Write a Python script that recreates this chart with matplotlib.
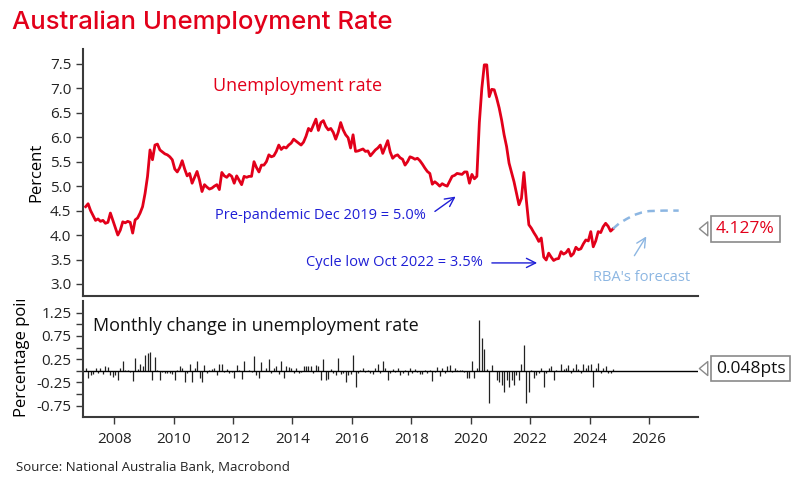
"""Australian unemployment rate with monthly change panel."""

import numpy as np
import pandas as pd
import matplotlib
matplotlib.use("Agg")
import matplotlib.pyplot as plt
from matplotlib import transforms
from matplotlib.transforms import Bbox, TransformedBbox

# Unemployment rate, monthly, Jan 2007 - Oct 2024 (per cent)
rate = [
    4.58, 4.64, 4.50, 4.40, 4.30, 4.33, 4.28, 4.30, 4.24, 4.26, 4.45, 4.30,  # 2007
    4.15, 4.00, 4.10, 4.27, 4.25, 4.28, 4.26, 4.04, 4.31, 4.35, 4.45, 4.58,  # 2008
    4.85, 5.20, 5.74, 5.54, 5.84, 5.86, 5.74, 5.70, 5.66, 5.64, 5.60, 5.54,  # 2009
    5.35, 5.29, 5.38, 5.52, 5.35, 5.21, 5.26, 5.06, 5.18, 5.30, 5.12, 4.89,  # 2010
    5.03, 4.98, 4.94, 4.96, 5.00, 5.03, 4.93, 5.28, 5.21, 5.18, 5.24, 5.20,  # 2011
    5.06, 5.21, 5.12, 5.03, 5.20, 5.18, 5.20, 5.20, 5.50, 5.38, 5.29, 5.43,  # 2012
    5.43, 5.50, 5.64, 5.60, 5.62, 5.71, 5.84, 5.75, 5.80, 5.78, 5.84, 5.88,  # 2013
    5.96, 5.92, 5.88, 5.84, 5.90, 6.02, 6.18, 6.13, 6.25, 6.37, 6.14, 6.30,  # 2014
    6.34, 6.22, 6.15, 6.18, 6.10, 5.96, 6.10, 6.30, 6.15, 6.05, 5.99, 5.78,  # 2015
    6.05, 5.71, 5.72, 5.74, 5.76, 5.71, 5.72, 5.62, 5.68, 5.74, 5.78, 5.84,  # 2016
    5.67, 5.80, 5.93, 5.70, 5.57, 5.62, 5.64, 5.58, 5.55, 5.43, 5.50, 5.60,  # 2017
    5.58, 5.55, 5.57, 5.52, 5.45, 5.37, 5.30, 5.26, 5.04, 5.09, 5.05, 5.00,  # 2018
    5.05, 5.02, 5.00, 5.10, 5.20, 5.22, 5.26, 5.25, 5.24, 5.29, 5.29, 5.06,  # 2019
    5.24, 5.15, 5.20, 6.30, 7.00, 7.48, 7.48, 6.83, 6.98, 6.97, 6.80, 6.60,  # 2020
    6.35, 6.05, 5.81, 5.47, 5.28, 5.09, 4.85, 4.62, 4.75, 5.28, 4.70, 4.21,  # 2021
    4.14, 4.05, 3.97, 3.87, 3.94, 3.55, 3.49, 3.63, 3.55, 3.48, 3.51, 3.52,  # 2022
    3.66, 3.61, 3.64, 3.71, 3.57, 3.62, 3.75, 3.70, 3.72, 3.82, 3.90, 3.88,  # 2023
    4.07, 3.76, 3.88, 4.07, 4.05, 4.17, 4.24, 4.18, 4.08, 4.127,             # 2024
]

# Monthly change in the rate (percentage points)
change = [
    0.05, -0.15, -0.10, -0.07, 0.05, -0.04, 0.05, -0.06, 0.10, 0.09, -0.09, -0.13,
    -0.10, -0.20, 0.05, 0.20, 0.02, 0.01, -0.02, -0.22, 0.28, 0.03, 0.15, 0.10,
    0.33, 0.38, 0.40, -0.20, 0.30, 0.02, -0.20, -0.03, -0.05, -0.04, -0.05, -0.06,
    -0.20, 0.02, 0.10, 0.05, -0.25, -0.05, 0.15, -0.25, 0.05, 0.22, -0.15, -0.25,
    0.12, -0.05, 0.02, 0.03, 0.05, -0.10, 0.15, 0.15, -0.03, 0.03, -0.05, -0.03,
    -0.15, 0.12, 0.02, -0.18, 0.20, 0.00, 0.02, -0.02, 0.32, -0.10, -0.15, 0.18,
    0.00, 0.05, 0.25, -0.05, 0.05, 0.10, -0.08, 0.20, -0.15, 0.10, 0.08, 0.05,
    -0.05, 0.05, -0.05, -0.03, 0.10, 0.10, 0.10, 0.10, -0.05, 0.12, 0.10, -0.20,
    0.25, -0.20, -0.18, 0.03, -0.05, -0.10, 0.28, -0.08, -0.05, -0.25, -0.10, -0.08,
    0.33, -0.35, -0.05, 0.02, 0.05, -0.03, 0.02, -0.05, -0.08, 0.05, 0.15, -0.05,
    0.20, 0.05, -0.20, -0.05, 0.03, -0.03, 0.05, -0.10, -0.05, 0.02, -0.10, 0.07,
    -0.05, 0.03, -0.03, -0.06, -0.07, 0.02, -0.05, 0.01, -0.22, -0.03, 0.08, -0.12,
    0.05, -0.05, 0.10, 0.12, -0.03, 0.05, 0.01, 0.02, 0.01, -0.03, -0.15, -0.15,
    0.20, -0.15, 0.07, 1.10, 0.70, 0.46, 0.03, -0.70, 0.13, 0.00, -0.20, -0.25,
    -0.30, -0.45, -0.20, -0.35, -0.20, -0.30, -0.10, -0.20, 0.15, 0.55, -0.70, -0.45,
    0.02, -0.15, -0.10, -0.05, 0.07, -0.35, -0.05, 0.05, 0.10, -0.20, 0.02, 0.00,
    0.15, 0.03, 0.05, 0.13, -0.05, 0.05, 0.15, 0.03, -0.05, 0.15, 0.05, 0.12,
    0.15, -0.35, 0.05, 0.17, -0.05, 0.07, 0.10, -0.05, -0.05, 0.048,
]

# RBA forecast path (decimal year, per cent)
fc_year = [2024.79, 2025.0, 2025.25, 2025.5, 2025.75, 2026.0, 2026.5, 2027.0]
fc_rate = [4.13, 4.24, 4.33, 4.41, 4.46, 4.49, 4.50, 4.50]

year_ticks = [2008, 2010, 2012, 2014, 2016, 2018, 2020, 2022, 2024, 2026]

dates = pd.date_range("2007-01-01", periods=len(rate), freq="MS")
t = dates.year + (dates.month - 0.5) / 12

RED = "#e2001a"
BLUE = "#1f1fd6"
LBLUE = "#8cb6e2"
DARK = "#3a3a3a"

plt.rcParams["font.family"] = ["Open Sans", "DejaVu Sans"]
plt.rcParams["font.size"] = 11

fig = plt.figure(figsize=(8, 4.92), dpi=100)
ax1 = fig.add_axes([0.104, 0.398, 0.7685, 0.502])
ax2 = fig.add_axes([0.104, 0.152, 0.7685, 0.236])

for ax in (ax1, ax2):
    for s in ("top", "right"):
        ax.spines[s].set_visible(False)
    for s in ("left", "bottom"):
        ax.spines[s].set_color(DARK)
        ax.spines[s].set_linewidth(1.5)
    ax.set_xlim(2006.96, 2027.65)
    ax.tick_params(colors=DARK, labelcolor="#222222", length=5, width=1, labelsize=11)

# upper panel
ax1.plot(t, rate, color=RED, lw=2.0, solid_joinstyle="round")
ax1.plot(fc_year, fc_rate, color=LBLUE, lw=1.8, linestyle=(0, (3, 2.2)))
ax1.set_ylim(2.75, 7.8)
ax1.set_yticks(np.arange(3.0, 7.51, 0.5))
ax1.yaxis.set_major_formatter(matplotlib.ticker.FormatStrFormatter("%.1f"))
ax1.set_xticks([])
ax1.set_ylabel("Percent", fontsize=12, labelpad=4)

ax1.text(2014.16, 7.05, "Unemployment rate", color=RED, fontsize=13,
         ha="center", va="center")
ax1.text(2011.40, 4.39, "Pre-pandemic Dec 2019 = 5.0%", color=BLUE,
         fontsize=10.5, ha="left", va="center")
ax1.annotate("", xy=(2019.57, 4.82), xytext=(2018.72, 4.45),
             arrowprops=dict(arrowstyle="->,head_length=0.6,head_width=0.3",
                             color=BLUE, lw=1.0))
ax1.text(2017.45, 3.43, "Cycle low Oct 2022 = 3.5%", color=BLUE,
         fontsize=10.5, ha="center", va="center")
ax1.annotate("", xy=(2022.33, 3.43), xytext=(2020.62, 3.43),
             arrowprops=dict(arrowstyle="->,head_length=0.6,head_width=0.3",
                             color=BLUE, lw=1.0))
ax1.text(2025.76, 3.14, "RBA's forecast", color=LBLUE, fontsize=10.5,
         ha="center", va="center")
ax1.annotate("", xy=(2025.96, 4.02), xytext=(2025.46, 3.53),
             arrowprops=dict(arrowstyle="->,head_length=0.6,head_width=0.3",
                             color=LBLUE, lw=1.0))

# lower panel
ax2.vlines(t, 0, change, color="#222222", lw=0.9)
ax2.axhline(0, color="black", lw=1.0)
ax2.set_ylim(-1.0, 1.5)
yt = np.arange(-0.75, 1.26, 0.25)
ax2.set_yticks(yt)
ax2.set_yticklabels(["%.2f" % v if abs(round(v / 0.25)) % 2 == 1 else "" for v in yt])
ax2.set_xticks(year_ticks)
ax2.set_xticklabels([str(y) for y in year_ticks])
ax2.tick_params(axis="x", pad=6)
ax2.text(2012.78, 0.96, "Monthly change in unemployment rate", color="#111111",
         fontsize=13, ha="center", va="center")
# label starts at the panel bottom and gets cut at the panel top, as in the source
lab = ax2.set_ylabel("Percentage points", fontsize=12)
ax2.yaxis.set_label_coords(-0.087, 0.0)
lab.set_horizontalalignment("left")
lab.set_clip_box(TransformedBbox(Bbox([[0, 0], [1, 0.39]]), fig.transFigure))
lab.set_clip_on(True)


def tag(ax, val, text, color):
    trans = transforms.blended_transform_factory(ax.transAxes, ax.transData)
    ax.annotate(text, xy=(1.0, val), xycoords=trans, xytext=(18, 0),
                textcoords="offset pixels", ha="left", va="center",
                color=color, fontsize=12.5, annotation_clip=False,
                bbox=dict(boxstyle="square,pad=0.28", fc="white", ec="#8a8a8a", lw=1.2),
                arrowprops=dict(arrowstyle="wedge,tail_width=0.8,shrink_factor=0.5",
                                fc="white", ec="#8a8a8a", lw=1.0, shrinkB=1))


tag(ax1, rate[-1], "%.3f%%" % rate[-1], RED)
tag(ax2, change[-1], "%.3fpts" % change[-1], "#111111")

fig.text(0.015, 0.955, "Australian Unemployment Rate", color=RED, fontsize=18.5,
         family=["Inter", "DejaVu Sans"], weight="medium", ha="left", va="center")
fig.text(0.02, 0.05, "Source: National Australia Bank, Macrobond", color="#222222",
         fontsize=9.5, ha="left", va="center")

fig.savefig("out.png", dpi=100)
